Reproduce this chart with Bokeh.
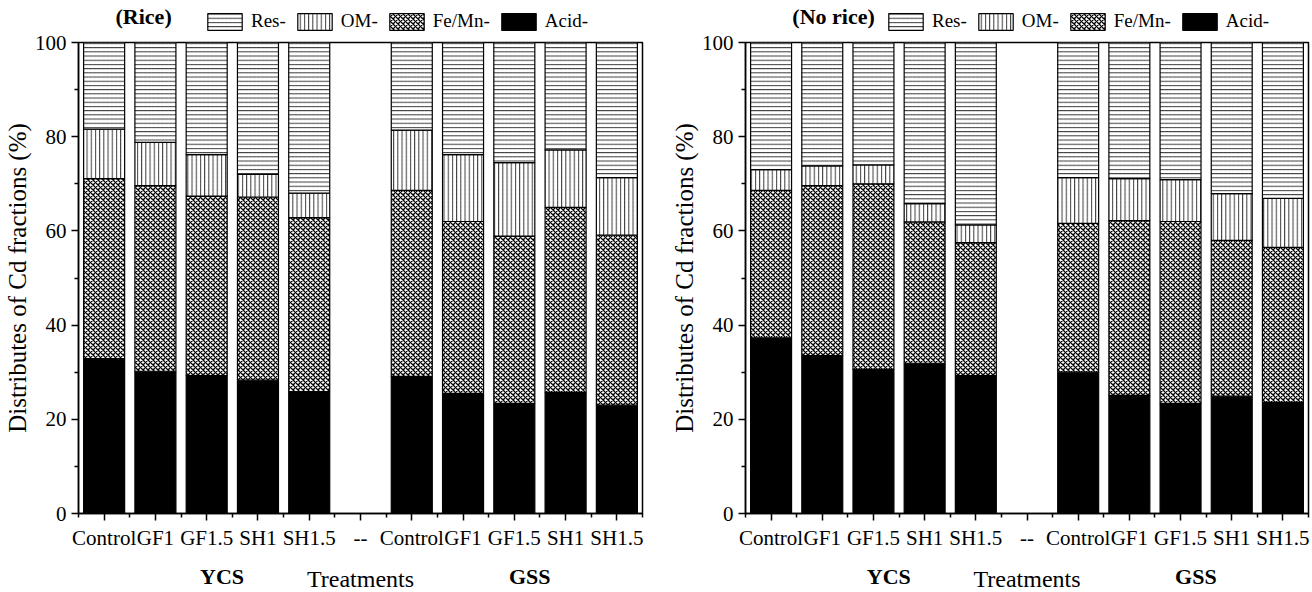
from bokeh.plotting import figure
from bokeh.models import ColumnDataSource, FixedTicker, Legend, LegendItem, Label, Range1d
from bokeh.layouts import row, column
from bokeh.embed import file_html
from bokeh.resources import INLINE

# ---------------- data ----------------
categories = ["Control", "GF1", "GF1.5", "SH1", "SH1.5", "--",
              "Control", "GF1", "GF1.5", "SH1", "SH1.5"]
group_labels = ["YCS", "GSS"]
group_centers = [2.3, 8.3]
legend_labels = ["Res-", "OM-", "Fe/Mn-", "Acid-"]

# Rice panel (percent of each fraction, None = empty slot)
rice_acid = [32.9, 30.2, 29.3, 28.3, 25.9, None, 29.1, 25.5, 23.4, 25.7, 23.0]
rice_femn = [38.2, 39.4, 38.1, 38.9, 36.9, None, 39.5, 36.5, 35.5, 39.3, 36.1]
rice_om   = [10.5,  9.2,  8.8,  4.8,  5.2, None, 12.8, 14.2, 15.6, 12.2, 12.2]
rice_res  = [18.4, 21.2, 23.8, 28.0, 32.0, None, 18.6, 23.8, 25.5, 22.8, 28.7]

# No rice panel
norice_acid = [37.3, 33.5, 30.6, 31.9, 29.3, None, 30.0, 25.1, 23.4, 24.9, 23.6]
norice_femn = [31.3, 36.1, 39.4, 30.0, 28.2, None, 31.6, 37.1, 38.6, 33.1, 32.9]
norice_om   = [ 4.4,  4.2,  4.0,  3.9,  3.8, None,  9.7,  8.9,  8.9,  9.9, 10.4]
norice_res  = [27.0, 26.2, 26.0, 34.2, 38.7, None, 28.7, 28.9, 29.1, 32.1, 33.1]

y_ticks = [0, 20, 40, 60, 80, 100]

FONT = "Liberation Serif"
HEAD_H = 32
MAIN_TOP = 10
FRAME_H = 474
MAIN_BOTTOM = 36
FOOT_H = 592 - HEAD_H - MAIN_TOP - FRAME_H - MAIN_BOTTOM

STACK = ["acid", "femn", "om", "res"]
BAR_STYLE = dict(width=0.8,
                 fill_color=["black", "white", "white", "white"],
                 line_color="black", line_width=1.2,
                 hatch_pattern=[" ", "diagonal_cross", "vertical_line", "horizontal_line"],
                 hatch_color="black", hatch_weight=[0.8, 1.3, 0.8, 0.8],
                 hatch_scale=[6, 5, 4.2, 4.2])


def blank_fig(width, height, bl, br, xr, yr):
    f = figure(width=width, height=height, x_range=xr, y_range=yr,
               x_axis_type=None, y_axis_type=None, output_backend="svg",
               toolbar_location=None, min_border_left=bl, min_border_right=br,
               min_border_top=0, min_border_bottom=0)
    f.grid.visible = False
    f.outline_line_color = None
    return f


def make_panel(title, title_x, acid, femn, om, res, width, bl, br, legend_dx):
    idx = [i for i, a in enumerate(acid) if a is not None]
    src = ColumnDataSource(dict(
        x=[float(i) for i in idx],
        acid=[acid[i] for i in idx],
        femn=[femn[i] for i in idx],
        om=[om[i] for i in idx],
        res=[res[i] for i in idx],
    ))
    n = len(categories)
    xr = Range1d(-0.5, n - 0.5)
    p = figure(width=width, height=MAIN_TOP + FRAME_H + MAIN_BOTTOM, x_range=xr,
               y_range=Range1d(0, 100), output_backend="svg",
               toolbar_location=None, min_border_left=bl, min_border_right=br,
               min_border_top=MAIN_TOP, min_border_bottom=MAIN_BOTTOM)
    p.grid.visible = False
    p.outline_line_color = "black"
    p.outline_line_width = 1.5
    p.outline_line_alpha = 1.0

    p.vbar_stack(STACK, x="x", source=src, **BAR_STYLE)

    xa = p.xaxis[0]
    ya = p.yaxis[0]
    xa.ticker = FixedTicker(ticks=list(range(n)),
                            minor_ticks=[i - 0.5 for i in range(n + 1)])
    xa.major_label_overrides = {i: c for i, c in enumerate(categories)}
    ya.ticker = FixedTicker(ticks=y_ticks,
                            minor_ticks=[(a + b) / 2 for a, b in zip(y_ticks[:-1], y_ticks[1:])])
    for ax in (xa, ya):
        ax.axis_line_width = 1.5
        ax.axis_line_color = "black"
        ax.major_tick_line_width = 1.5
        ax.minor_tick_line_width = 1.5
        ax.major_tick_line_color = "black"
        ax.minor_tick_line_color = "black"
        ax.major_tick_in = 0
        ax.major_tick_out = 7
        ax.minor_tick_in = 0
        ax.minor_tick_out = 4
        ax.major_label_text_font = FONT
        ax.major_label_text_font_size = "21px"
        ax.major_label_text_color = "black"
        ax.major_label_standoff = 5
    ya.axis_label = "Distributes of Cd fractions (%)"
    ya.axis_label_text_font = FONT
    ya.axis_label_text_font_size = "25px"
    ya.axis_label_text_font_style = "normal"
    ya.axis_label_text_color = "black"
    ya.axis_label_standoff = 1

    # ---- header: panel title + legend (same bars, kept out of view) ----
    head = blank_fig(width, HEAD_H, bl, br, xr, Range1d(1000, 1001))
    rs = head.vbar_stack(STACK, x="x", source=src, **BAR_STYLE)
    head.add_layout(Label(x=title_x, y=HEAD_H - 16, x_units="data", y_units="screen",
                          text=title, text_font=FONT, text_font_style="bold",
                          text_font_size="22px", text_align="center",
                          text_baseline="middle", text_color="black"))
    items = [LegendItem(label=legend_labels[0], renderers=[rs[3]]),
             LegendItem(label=legend_labels[1], renderers=[rs[2]]),
             LegendItem(label=legend_labels[2], renderers=[rs[1]]),
             LegendItem(label=legend_labels[3], renderers=[rs[0]])]
    leg = Legend(items=items, orientation="horizontal", location=(legend_dx, 0),
                 glyph_width=43, glyph_height=21, label_text_font=FONT,
                 label_text_font_size="19px", label_standoff=5, spacing=7,
                 padding=0, margin=0, border_line_color=None,
                 background_fill_alpha=0, label_text_color="black")
    head.add_layout(leg, "center")

    # ---- footer: group labels + axis title ----
    foot = blank_fig(width, FOOT_H, bl, br, xr, Range1d(0, 1))
    for g, gx in zip(group_labels, group_centers):
        foot.add_layout(Label(x=gx, y=FOOT_H - 24, x_units="data", y_units="screen",
                              text=g, text_font=FONT, text_font_style="bold",
                              text_font_size="22px", text_align="center",
                              text_baseline="middle", text_color="black"))
    foot.add_layout(Label(x=(n - 1) / 2, y=FOOT_H - 26, x_units="data", y_units="screen",
                          text="Treatments", text_font=FONT, text_font_size="24px",
                          text_align="center", text_baseline="middle", text_color="black"))
    return column(head, p, foot)


c1 = make_panel("(Rice)", 0.77, rice_acid, rice_femn, rice_om, rice_res,
                660, 78, 18, 125)
c2 = make_panel("(No rice)", 1.22, norice_acid, norice_femn, norice_om, norice_res,
                652, 85, 4, 139)

layout = row(c1, c2)
open("out.html", "w").write(file_html(layout, INLINE))
